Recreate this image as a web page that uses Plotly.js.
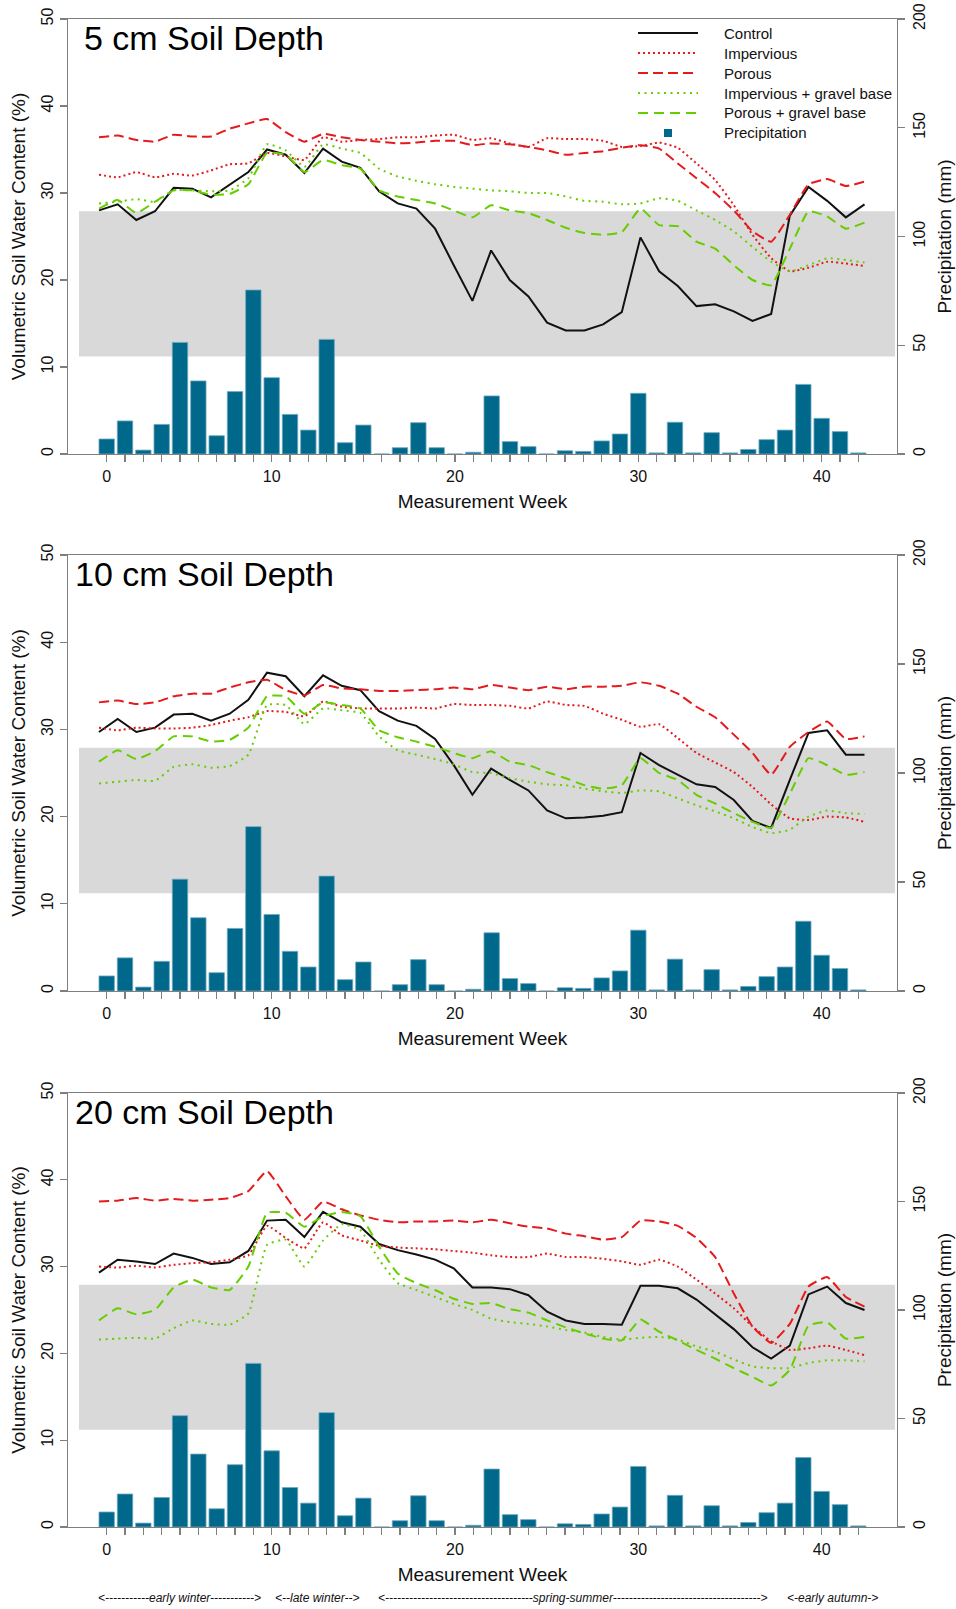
<!DOCTYPE html>
<html>
<head>
<meta charset="utf-8">
<script src="https://cdn.plot.ly/plotly-3.0.1.min.js"></script>
<style>
html,body{margin:0;padding:0;background:#fff;}
#chart{width:956px;height:1609px;}
</style>
</head>
<body>
<div id="chart"></div>
<script>
// ---------------- DATA ----------------
// bar (precipitation) positions: one per measurement week
const weeks = [0,1,2,3,4,5,6,7,8,9,10,11,12,13,14,15,16,17,18,19,20,21,22,23,24,25,26,27,28,29,30,31,32,33,34,35,36,37,38,39,40,41];
// line (soil moisture) positions: one per measurement
const measurements = [0,1,2,3,4,5,6,7,8,9,10,11,12,13,14,15,16,17,18,19,20,21,22,23,24,25,26,27,28,29,30,31,32,33,34,35,36,37,38,39,40,41];

const xTickPos  = [0, 9, 19, 29, 39];
const xTickText = ['0', '10', '20', '30', '40'];
const vwcTicks  = [0, 10, 20, 30, 40, 50];
const precTicks = [0, 50, 100, 150, 200];

// weekly precipitation (mm)
const precipitation = [6.9, 15.2, 1.8, 13.6, 51.3, 33.6, 8.4, 28.7, 75.4, 35.1, 18.2, 11.0, 52.7, 5.2, 13.3, 0, 2.9, 14.4, 2.9, 0, 0.8, 26.7, 5.7, 3.4, 0, 1.5, 1.2, 6.0, 9.2, 27.9, 0.5, 14.6, 0.5, 9.8, 0.5, 2.1, 6.6, 11.0, 32.0, 16.4, 10.3, 0.5];

// shaded band (volumetric soil water content, %)
const bandLow = 11.2;
const bandHigh = 27.9;

const panelTitles = ['5 cm Soil Depth', '10 cm Soil Depth', '20 cm Soil Depth'];
const seriesNames = ['Control', 'Impervious', 'Porous', 'Impervious + gravel base', 'Porous + gravel base'];
const seasonLabels = [
  '<-----------early winter----------->',
  '<--late winter-->',
  '<-------------------------------------spring-summer------------------------------------->',
  '<-early autumn->'
];

// 5 cm depth
const control5     = [28.0, 28.7, 26.9, 27.9, 30.6, 30.5, 29.5, 30.9, 32.4, 35.0, 34.4, 32.3, 35.1, 33.6, 32.9, 30.2, 28.8, 28.2, 25.9, 21.7, 17.6, 23.4, 20.0, 18.1, 15.1, 14.2, 14.2, 14.9, 16.3, 24.9, 21.0, 19.3, 17.0, 17.2, 16.4, 15.3, 16.1, 27.4, 30.7, 29.1, 27.2, 28.7];
const impervious5  = [32.1, 31.8, 32.4, 31.8, 32.2, 32.0, 32.6, 33.3, 33.4, 34.6, 34.2, 33.8, 36.4, 35.9, 36.1, 36.2, 36.4, 36.4, 36.6, 36.7, 36.1, 36.3, 35.7, 35.3, 36.3, 36.2, 36.2, 36.0, 35.3, 35.4, 35.8, 35.2, 33.4, 31.5, 28.6, 25.2, 22.5, 21.0, 21.4, 22.1, 21.9, 21.6];
const porous5      = [36.4, 36.6, 36.1, 35.9, 36.7, 36.5, 36.5, 37.4, 38.0, 38.5, 37.0, 35.9, 36.8, 36.4, 36.1, 35.9, 35.7, 35.8, 36.0, 36.0, 35.5, 35.7, 35.6, 35.3, 34.9, 34.4, 34.6, 34.8, 35.2, 35.5, 35.1, 33.4, 31.7, 30.0, 28.0, 25.6, 24.4, 27.5, 31.0, 31.6, 30.8, 31.3];
const impGravel5   = [28.8, 29.0, 29.3, 29.0, 30.3, 30.3, 30.2, 30.3, 31.7, 35.6, 34.9, 33.0, 35.6, 35.1, 34.6, 32.8, 31.9, 31.4, 31.0, 30.7, 30.5, 30.3, 30.2, 30.0, 30.0, 29.6, 29.1, 29.0, 28.7, 28.8, 29.4, 29.1, 28.0, 26.9, 25.6, 23.8, 22.1, 21.0, 21.7, 22.5, 22.3, 22.0];
const porGravel5   = [28.2, 29.2, 27.7, 29.0, 30.3, 30.3, 29.8, 29.9, 31.0, 34.6, 34.4, 32.4, 33.8, 33.2, 32.8, 30.3, 29.6, 29.2, 28.8, 28.0, 27.2, 28.6, 28.0, 27.7, 26.9, 26.0, 25.4, 25.2, 25.5, 28.2, 26.3, 26.2, 24.4, 23.6, 21.7, 20.0, 19.4, 23.6, 27.9, 27.3, 25.9, 26.6];

// 10 cm depth
const control10    = [29.7, 31.2, 29.7, 30.2, 31.7, 31.8, 31.0, 31.8, 33.4, 36.5, 36.1, 33.8, 36.2, 35.0, 34.5, 32.1, 31.0, 30.4, 28.9, 25.9, 22.5, 25.5, 24.2, 23.0, 20.7, 19.8, 19.9, 20.1, 20.5, 27.3, 25.9, 24.8, 23.7, 23.4, 21.9, 19.5, 18.7, 24.2, 29.6, 29.9, 27.1, 27.1];
const impervious10 = [30.2, 29.9, 30.2, 30.1, 30.1, 30.2, 30.5, 31.0, 31.4, 32.1, 32.0, 31.5, 33.2, 32.6, 32.4, 32.4, 32.4, 32.5, 32.4, 32.9, 32.8, 32.8, 32.7, 32.4, 33.2, 32.8, 32.7, 31.8, 31.1, 30.3, 30.6, 29.0, 27.3, 26.2, 25.1, 23.4, 21.4, 19.8, 19.6, 20.0, 19.9, 19.4];
const porous10     = [33.1, 33.3, 32.9, 33.1, 33.8, 34.1, 34.1, 34.8, 35.4, 35.7, 34.5, 33.9, 35.1, 34.7, 34.6, 34.4, 34.4, 34.5, 34.6, 34.8, 34.6, 35.1, 34.8, 34.5, 34.9, 34.6, 34.9, 34.9, 35.0, 35.4, 35.0, 34.1, 32.6, 31.4, 29.4, 27.3, 24.8, 28.0, 29.7, 30.9, 28.9, 29.2];
const impGravel10  = [23.8, 24.0, 24.2, 24.1, 25.7, 26.0, 25.6, 25.8, 27.1, 32.8, 32.8, 30.6, 32.4, 32.2, 31.9, 29.2, 27.6, 27.1, 26.6, 26.0, 25.1, 25.0, 24.4, 24.0, 23.7, 23.6, 23.2, 22.9, 22.7, 23.0, 22.9, 22.1, 21.3, 20.6, 19.8, 18.8, 18.1, 18.5, 20.0, 20.7, 20.4, 20.3];
const porGravel10  = [26.3, 27.6, 26.6, 27.5, 29.2, 29.2, 28.6, 28.8, 30.2, 33.8, 33.8, 31.8, 33.1, 32.8, 32.4, 29.9, 29.1, 28.6, 28.0, 27.3, 26.7, 27.5, 26.3, 25.9, 25.1, 24.4, 23.6, 23.2, 23.6, 26.7, 25.0, 24.2, 22.5, 21.5, 20.4, 19.4, 18.7, 22.6, 26.7, 25.9, 24.8, 25.1];

// 20 cm depth
const control20    = [29.3, 30.8, 30.6, 30.3, 31.5, 31.0, 30.3, 30.5, 31.8, 35.3, 35.4, 33.4, 36.3, 35.1, 34.6, 32.6, 31.9, 31.4, 30.8, 29.8, 27.6, 27.6, 27.4, 26.7, 24.8, 23.8, 23.4, 23.4, 23.3, 27.8, 27.8, 27.5, 26.2, 24.5, 22.8, 20.7, 19.4, 20.9, 26.8, 27.7, 25.8, 25.0];
const impervious20 = [30.0, 29.9, 30.1, 29.9, 30.2, 30.4, 30.5, 30.8, 31.3, 34.7, 33.3, 32.1, 35.1, 33.6, 33.0, 32.4, 32.2, 32.1, 32.0, 31.8, 31.6, 31.3, 31.1, 31.1, 31.5, 31.1, 31.1, 30.9, 30.6, 30.2, 30.8, 30.0, 28.5, 26.9, 25.2, 23.1, 21.4, 20.4, 20.6, 20.9, 20.4, 19.8];
const porous20     = [37.5, 37.6, 37.9, 37.6, 37.8, 37.6, 37.7, 37.9, 38.7, 41.0, 38.1, 35.4, 37.5, 36.6, 35.9, 35.4, 35.1, 35.2, 35.2, 35.3, 35.1, 35.4, 35.0, 34.6, 34.4, 33.8, 33.5, 33.1, 33.4, 35.3, 35.2, 34.7, 33.3, 31.1, 26.9, 23.1, 21.2, 23.4, 27.7, 28.8, 26.5, 25.4];
const impGravel20  = [21.6, 21.7, 21.8, 21.7, 22.9, 23.8, 23.4, 23.3, 24.6, 32.5, 33.1, 30.0, 33.0, 34.9, 34.2, 30.8, 28.1, 27.3, 26.5, 25.7, 25.0, 24.0, 23.6, 23.4, 23.1, 22.7, 22.4, 21.9, 21.6, 21.8, 21.9, 21.6, 20.8, 20.2, 19.3, 18.5, 18.3, 18.3, 18.9, 19.2, 19.2, 19.1];
const porGravel20  = [23.8, 25.2, 24.5, 25.0, 27.6, 28.5, 27.6, 27.3, 30.0, 36.2, 36.2, 34.6, 35.8, 36.3, 35.8, 32.3, 29.2, 28.1, 27.3, 26.3, 25.7, 25.8, 25.1, 24.7, 23.8, 23.0, 22.3, 21.7, 21.5, 23.9, 22.5, 21.5, 20.4, 19.4, 18.3, 17.3, 16.3, 18.1, 23.2, 23.6, 21.7, 21.9];

const panelSeries = [
  [control5, impervious5, porous5, impGravel5, porGravel5],
  [control10, impervious10, porous10, impGravel10, porGravel10],
  [control20, impervious20, porous20, impGravel20, porGravel20]
];

// ---------------- STYLE / LAYOUT ----------------
const FONT = 'Liberation Sans, Arial, Helvetica, sans-serif';
const AXIS_GREY = '#7f7f7f';
const BAR_COLOR = '#00688B';
const BAND_COLOR = '#d9d9d9';
const seriesStyle = [
  {color: '#111111', dash: 'solid', shape: 'linear'},
  {color: '#e41a1c', dash: '2px,3px', shape: 'spline'},
  {color: '#e41a1c', dash: '10px,5px', shape: 'spline'},
  {color: '#66cd00', dash: '2px,4.5px', shape: 'spline'},
  {color: '#66cd00', dash: '10px,6px', shape: 'spline'}
];

const W = 956, H = 1609;
const M = {l: 68, r: 59, t: 19, b: 82};
const plotW = W - M.l - M.r;
const plotH = H - M.t - M.b;
const px2paper = px => (px - M.l) / plotW;
const py2paper = py => (H - M.b - py) / plotH;
const panelPx = [[19, 454], [555, 991], [1093, 1527]];

const traces = [];
const layout = {
  width: W, height: H,
  margin: {l: M.l, r: M.r, t: M.t, b: M.b, pad: 0},
  paper_bgcolor: '#ffffff',
  plot_bgcolor: 'rgba(0,0,0,0)',
  font: {family: FONT, color: '#111111', size: 16},
  showlegend: false,
  shapes: [],
  annotations: []
};

panelPx.forEach((pp, i) => {
  const n = 2 * i + 1, m = 2 * i + 2;
  const xb = 'x' + (n === 1 ? '' : n), yb = 'y' + (n === 1 ? '' : n);
  const xl = 'x' + m, yl = 'y' + m;
  const dom = [py2paper(pp[1]), py2paper(pp[0])];

  layout['xaxis' + (n === 1 ? '' : n)] = {
    domain: [0, 1], anchor: yb, range: [-2.11, 43.11],
    tickmode: 'array', tickvals: xTickPos, ticktext: xTickText,
    ticks: 'outside', ticklen: 7, tickwidth: 1.2, tickcolor: AXIS_GREY,
    minor: {tickmode: 'array', tickvals: weeks, ticks: 'outside', ticklen: 7, tickwidth: 1.2, tickcolor: AXIS_GREY, showgrid: false},
    showline: true, linecolor: AXIS_GREY, linewidth: 1.3, mirror: true,
    showgrid: false, zeroline: false, automargin: false,
    tickfont: {size: 16, family: FONT, color: '#111'},
    title: {text: 'Measurement Week', font: {size: 19, family: FONT, color: '#111'}, standoff: 11}
  };
  layout['yaxis' + (n === 1 ? '' : n)] = {
    domain: dom, anchor: xb, side: 'right', range: [0, 200],
    tickmode: 'array', tickvals: precTicks, tickangle: -90,
    ticks: 'outside', ticklen: 7, tickwidth: 1.2, tickcolor: AXIS_GREY,
    showline: true, linecolor: AXIS_GREY, linewidth: 1.3,
    showgrid: false, zeroline: false, automargin: false,
    tickfont: {size: 16, family: FONT, color: '#111'},
    title: {text: 'Precipitation (mm)', font: {size: 19, family: FONT, color: '#111'}, standoff: 11}
  };
  layout['xaxis' + m] = {overlaying: xb, anchor: yl, range: [-1.66, 42.74], visible: false};
  layout['yaxis' + m] = {
    overlaying: yb, anchor: xb, side: 'left', range: [0, 50],
    tickmode: 'array', tickvals: vwcTicks, tickangle: -90,
    ticks: 'outside', ticklen: 7, tickwidth: 1.2, tickcolor: AXIS_GREY,
    showline: true, linecolor: AXIS_GREY, linewidth: 1.3,
    showgrid: false, zeroline: false, automargin: false,
    tickfont: {size: 16, family: FONT, color: '#111'},
    title: {text: 'Volumetric Soil Water Content (%)', font: {size: 19, family: FONT, color: '#111'}, standoff: 8}
  };

  // shaded band
  layout.shapes.push({
    type: 'rect', layer: 'below', xref: 'paper', yref: yl,
    x0: px2paper(79), x1: px2paper(895), y0: bandLow, y1: bandHigh,
    fillcolor: BAND_COLOR, line: {width: 0}
  });

  // precipitation bars
  traces.push({
    type: 'bar', name: 'Precipitation', x: weeks, y: precipitation,
    xaxis: xb, yaxis: yb, width: 0.84,
    marker: {color: BAR_COLOR, line: {color: '#6fa8bf', width: 0.8}},
    hoverinfo: 'x+y'
  });

  // soil moisture lines
  panelSeries[i].forEach((vals, s) => {
    traces.push({
      type: 'scatter', mode: 'lines', name: seriesNames[s],
      x: measurements, y: vals, xaxis: xl, yaxis: yl,
      line: {color: seriesStyle[s].color, width: 2, dash: seriesStyle[s].dash,
             shape: seriesStyle[s].shape, smoothing: 0.4}
    });
  });

  // panel title
  layout.annotations.push({
    xref: 'paper', yref: 'paper', x: px2paper(204), y: py2paper(pp[0] + 19),
    xanchor: 'center', yanchor: 'middle', showarrow: false,
    text: panelTitles[i], font: {size: 34, family: FONT, color: '#000'}
  });
});

// legend (drawn in top panel)
const legTop = 33, legStep = 20;
seriesNames.forEach((nm, s) => {
  const y = py2paper(legTop + s * legStep);
  layout.shapes.push({
    type: 'line', xref: 'paper', yref: 'paper',
    x0: px2paper(638), x1: px2paper(698), y0: y, y1: y,
    line: {color: seriesStyle[s].color, width: 2, dash: seriesStyle[s].dash}
  });
  layout.annotations.push({
    xref: 'paper', yref: 'paper', x: px2paper(722), y: y,
    xanchor: 'left', yanchor: 'middle', showarrow: false,
    text: nm, font: {size: 15, family: FONT, color: '#111'}
  });
});
{
  const y = legTop + 5 * legStep;
  layout.shapes.push({
    type: 'rect', xref: 'paper', yref: 'paper',
    x0: px2paper(664), x1: px2paper(672), y0: py2paper(y + 4), y1: py2paper(y - 4),
    fillcolor: BAR_COLOR, line: {width: 0}
  });
  layout.annotations.push({
    xref: 'paper', yref: 'paper', x: px2paper(722), y: py2paper(y),
    xanchor: 'left', yanchor: 'middle', showarrow: false,
    text: 'Precipitation', font: {size: 15, family: FONT, color: '#111'}
  });
}

// season labels under the bottom panel
const seasonCenters = [179.5, 317, 573, 832];
seasonLabels.forEach((t, k) => {
  layout.annotations.push({
    xref: 'paper', yref: 'paper', x: px2paper(seasonCenters[k]), y: py2paper(1598),
    xanchor: 'center', yanchor: 'middle', showarrow: false,
    text: '<i>' + t.replace(/</g, '&lt;').replace(/>/g, '&gt;') + '</i>',
    font: {size: 12, family: FONT, color: '#111'}
  });
});

Plotly.newPlot('chart', traces, layout, {staticPlot: true, displayModeBar: false});
</script>
</body>
</html>
